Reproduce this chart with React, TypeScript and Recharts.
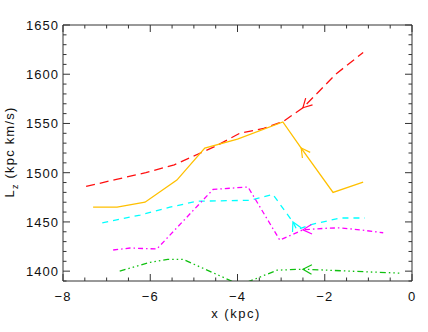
import React from 'react';
import { LineChart, Line, XAxis, YAxis } from 'recharts';

// --- data (x in kpc, Lz in kpc km/s) ---
const redX = [-7.47, -6.8, -6.1, -5.45, -4.9, -4.5, -3.95, -3.4, -2.95, -2.5, -2.1, -1.75, -1.12];
const redLz = [1486, 1493, 1500, 1508, 1519, 1527, 1540, 1545, 1552, 1566, 1584, 1600, 1622];

const yellowX = [-7.31, -6.76, -6.12, -5.39, -4.75, -4.0, -2.96, -2.54, -1.81, -1.12];
const yellowLz = [1465, 1465, 1470, 1492.5, 1525, 1534, 1551.5, 1525, 1480, 1490.5];

const cyanX = [-7.1, -6.23, -5.55, -4.93, -3.71, -3.19, -2.73, -2.64, -2.34, -1.65, -1.08];
const cyanLz = [1449, 1457, 1465, 1471, 1472, 1478, 1450, 1442, 1447, 1454, 1454];

const magentaX = [-6.85, -6.46, -5.85, -4.56, -3.76, -3.03, -2.5, -2.0, -1.65, -1.2, -0.66];
const magentaLz = [1421.5, 1423.5, 1422.5, 1483, 1485.5, 1431.5, 1442, 1443.5, 1444, 1442, 1439];

const greenX = [-6.7, -6.0, -5.6, -5.25, -4.54, -3.94, -3.09, -2.5, -1.42, -0.28];
const greenLz = [1400, 1409, 1412, 1412, 1398, 1386, 1401, 1402, 1400, 1398];

// index of the point carrying the direction arrow on each track
const arrowIdx = { red: 9, yellow: 7, cyan: 6, magenta: 6, green: 7 };

const xMajor = [-8, -6, -4, -2, 0];
const xTicks = [-8, -7.5, -7, -6.5, -6, -5.5, -5, -4.5, -4, -3.5, -3, -2.5, -2, -1.5, -1, -0.5, 0];
const yMajor = [1400, 1450, 1500, 1550, 1600, 1650];
const yTicks = Array.from({ length: 27 }, (_, i) => 1390 + i * 10);

const AXIS = '#333';
const FONT = '"Liberation Sans", Arial, sans-serif';

const toRows = (xs: number[], ys: number[]) => xs.map((x, i) => ({ x, lz: ys[i] }));

const fmtX = (v: number) => (v < 0 ? '\u2212' + Math.abs(v) : String(Math.abs(v)));

const BottomTick = (props: any) => {
  const { x, y, payload } = props;
  const major = xMajor.includes(payload.value);
  return (
    <g>
      <line x1={x} x2={x} y1={y} y2={y - (major ? 7 : 3.5)} stroke={AXIS} />
      {major && (
        <text x={x} y={y + 20} textAnchor="middle" fontSize={13} letterSpacing={1} fill="#111" fontFamily={FONT}>
          {fmtX(payload.value)}
        </text>
      )}
    </g>
  );
};

const TopTick = (props: any) => {
  const { x, y, payload } = props;
  const major = xMajor.includes(payload.value);
  return <line x1={x} x2={x} y1={y} y2={y + (major ? 7 : 3.5)} stroke={AXIS} />;
};

const LeftTick = (props: any) => {
  const { x, y, payload } = props;
  const major = yMajor.includes(payload.value);
  return (
    <g>
      <line x1={x} x2={x + (major ? 7 : 3.5)} y1={y} y2={y} stroke={AXIS} />
      {major && (
        <text x={x - 4} y={y + 5} textAnchor="end" fontSize={13} letterSpacing={1} fill="#111" fontFamily={FONT}>
          {payload.value}
        </text>
      )}
    </g>
  );
};

const RightTick = (props: any) => {
  const { x, y, payload } = props;
  const major = yMajor.includes(payload.value);
  return <line x1={x} x2={x - (major ? 7 : 3.5)} y1={y} y2={y} stroke={AXIS} />;
};

// open "V" arrowhead pointing back along the track
const arrowDot = (idx: number, color: string) => (props: any) => {
  const { cx, cy, index, points } = props;
  if (index !== idx || cx == null) return <g key={`d-${index}`} />;
  const nxt = points && points[index + 1];
  const ang = nxt ? Math.atan2(nxt.y - cy, nxt.x - cx) : 0;
  const L = 10;
  const h = 0.5;
  const d = `M${cx + L * Math.cos(ang + h)},${cy + L * Math.sin(ang + h)} L${cx},${cy} L${
    cx + L * Math.cos(ang - h)
  },${cy + L * Math.sin(ang - h)}`;
  return <path key={`d-${index}`} d={d} stroke={color} strokeWidth={1.2} fill="none" />;
};

const series = [
  { key: 'red', data: toRows(redX, redLz), color: '#ff1010', dash: '9 5' },
  { key: 'yellow', data: toRows(yellowX, yellowLz), color: '#ffc000', dash: undefined },
  { key: 'cyan', data: toRows(cyanX, cyanLz), color: '#00ffff', dash: '6 5' },
  { key: 'magenta', data: toRows(magentaX, magentaLz), color: '#ff00ff', dash: '5 3 1.5 3' },
  { key: 'green', data: toRows(greenX, greenLz), color: '#10c010', dash: '6 3 1.5 3 1.5 3 1.5 3' },
];

export default function App() {
  return (
    <div style={{ position: 'relative', width: 428, height: 332 }}>
      <style>{'body{margin:0}'}</style>
      <LineChart width={428} height={332} margin={{ top: 24, right: 15, bottom: 50, left: 62 }}>
        <XAxis
          xAxisId="b"
          type="number"
          dataKey="x"
          domain={[-8, 0]}
          allowDataOverflow
          ticks={xTicks}
          interval={0}
          height={1}
          tickSize={0}
          tickMargin={0}
          tickLine={false}
          axisLine={{ stroke: AXIS }}
          tick={BottomTick}
        />
        <XAxis
          xAxisId="t"
          orientation="top"
          type="number"
          dataKey="x"
          domain={[-8, 0]}
          allowDataOverflow
          ticks={xTicks}
          interval={0}
          height={1}
          tickSize={0}
          tickMargin={0}
          tickLine={false}
          axisLine={{ stroke: AXIS }}
          tick={TopTick}
        />
        <YAxis
          yAxisId="l"
          type="number"
          domain={[1390, 1650]}
          allowDataOverflow
          ticks={yTicks}
          interval={0}
          width={1}
          tickSize={0}
          tickMargin={0}
          tickLine={false}
          axisLine={{ stroke: AXIS }}
          tick={LeftTick}
        />
        <YAxis
          yAxisId="r"
          orientation="right"
          type="number"
          domain={[1390, 1650]}
          allowDataOverflow
          ticks={yTicks}
          interval={0}
          width={1}
          tickSize={0}
          tickMargin={0}
          tickLine={false}
          axisLine={{ stroke: AXIS }}
          tick={RightTick}
        />
        {series.map((s) => (
          <Line
            key={s.key}
            xAxisId="b"
            yAxisId="l"
            data={s.data}
            dataKey="lz"
            type="linear"
            stroke={s.color}
            strokeWidth={1.3}
            strokeDasharray={s.dash}
            dot={arrowDot((arrowIdx as any)[s.key], s.color)}
            activeDot={false}
            isAnimationActive={false}
          />
        ))}
        <text x={236} y={318} textAnchor="middle" fontSize={13} letterSpacing={1.5} fill="#111" fontFamily={FONT}>
          x (kpc)
        </text>
        <text
          transform="translate(14,152) rotate(-90)"
          textAnchor="middle"
          fontSize={13}
          letterSpacing={1.2}
          fill="#111"
          fontFamily={FONT}
        >
          L
          <tspan fontSize={9} dy={4}>z</tspan>
          <tspan dy={-4}> (kpc km/s)</tspan>
        </text>
      </LineChart>
    </div>
  );
}
